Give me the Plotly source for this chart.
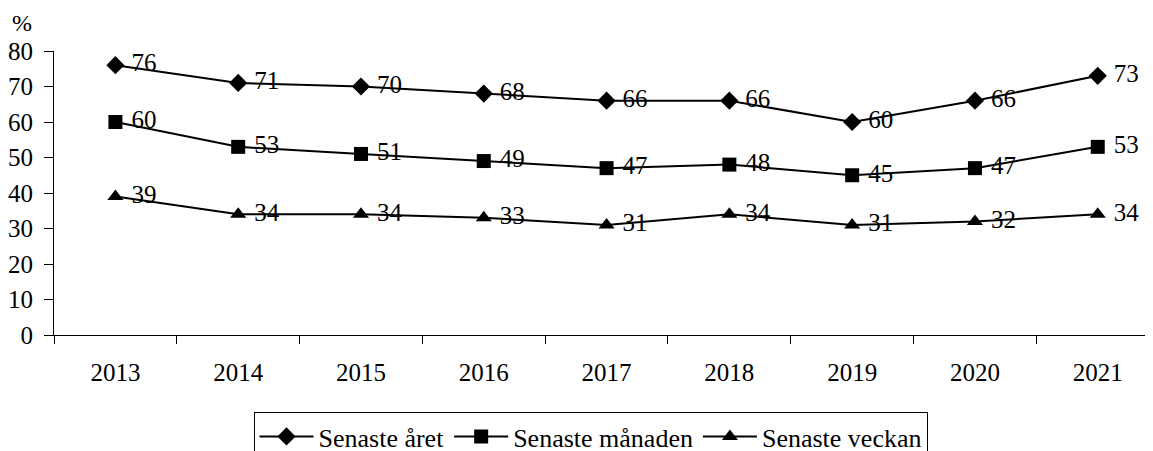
import plotly.graph_objects as go

years = ["2013", "2014", "2015", "2016", "2017", "2018", "2019", "2020", "2021"]
senaste_aret = [76, 71, 70, 68, 66, 66, 60, 66, 73]
senaste_manaden = [60, 53, 51, 49, 47, 48, 45, 47, 53]
senaste_veckan = [39, 34, 34, 33, 31, 34, 31, 32, 34]

series = [
    ("Senaste året", senaste_aret, "diamond", 14),
    ("Senaste månaden", senaste_manaden, "square", 14),
    ("Senaste veckan", senaste_veckan, "triangle-up", 14),
]

# page body has an 8px default margin, so the figure is sized/placed to compensate
W, H = 1145, 443
font = "Liberation Serif, Times New Roman, serif"
fig = go.Figure()
for name, vals, sym, sz in series:
    fig.add_trace(go.Scatter(
        x=years, y=vals, name=name, mode="lines+markers+text",
        text=[" " + str(v) for v in vals], textposition="middle right",
        textfont=dict(family=font, size=25, color="black"),
        line=dict(color="black", width=2),
        marker=dict(symbol=sym, size=sz, color="black"),
    ))

fig.update_layout(
    width=W, height=H,
    margin=dict(l=46, r=0, t=43, b=116),
    paper_bgcolor="white", plot_bgcolor="white",
    font=dict(family=font, size=25, color="black"),
    showlegend=True,
    legend=dict(orientation="h", xref="container", yref="container",
                x=582.5 / W, xanchor="center", y=1 - 404 / H, yanchor="top",
                bordercolor="black", borderwidth=1, font=dict(size=26),
                itemwidth=54, tracegroupgap=0),
    annotations=[dict(text="%", xref="paper", yref="paper",
                      x=(22 - 54) / 1099, y=(335 - 23) / 284, xanchor="center", yanchor="middle",
                      showarrow=False, font=dict(size=24))],
)
fig.update_xaxes(type="category", range=[-0.5, 8.45], tickson="boundaries", ticks="outside",
                 ticklen=8, tickcolor="black", showline=True, linecolor="black", linewidth=1,
                 showgrid=False, tickfont=dict(size=25), ticklabelstandoff=15, automargin=False)
fig.update_yaxes(range=[0, 80], dtick=10, ticks="outside", ticklen=9, tickcolor="black",
                 showline=True, linecolor="black", linewidth=1, showgrid=False, zeroline=False,
                 tickfont=dict(size=25), ticklabelstandoff=6, automargin=False)
fig.write_html("out.html")
